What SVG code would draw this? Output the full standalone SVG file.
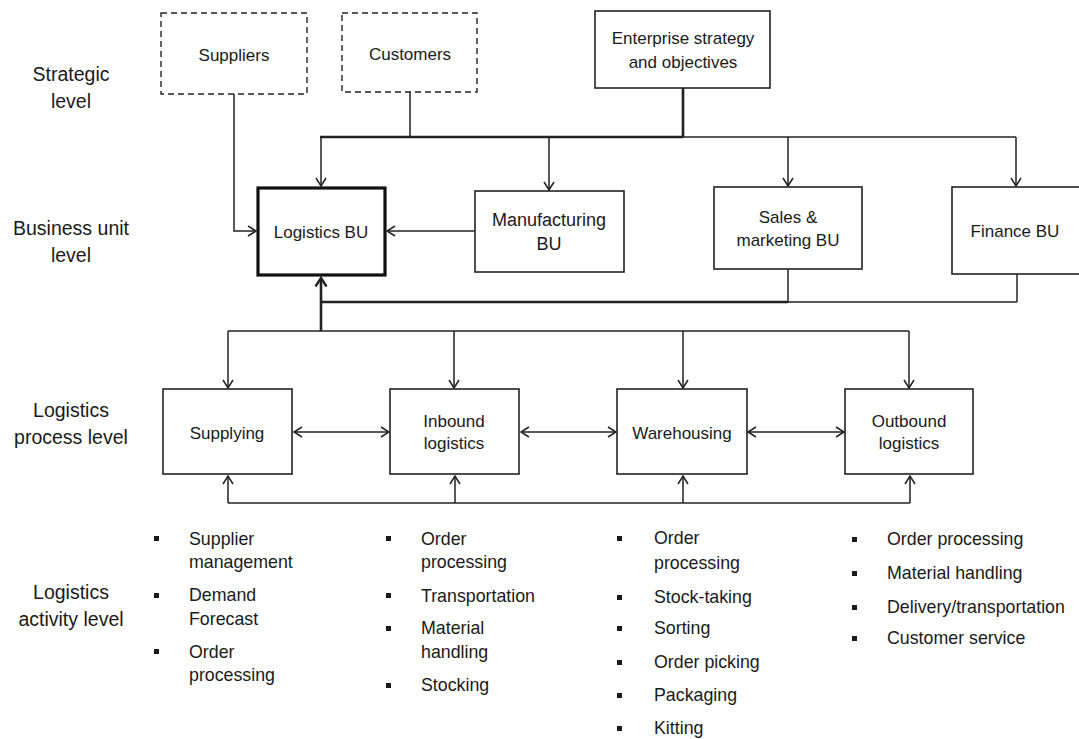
<svg xmlns="http://www.w3.org/2000/svg" width="1079" height="739" viewBox="0 0 1079 739">
<style>
text{font-family:"Liberation Sans",Arial,sans-serif;font-size:17px;fill:#1a1a1a}
.c{text-anchor:middle}
.lv{font-size:19.5px}
.act{font-size:17.8px}
.box{fill:#fff;stroke:#222;stroke-width:1.6}
.dash{fill:#fff;stroke:#222;stroke-width:1.4;stroke-dasharray:6 4}
.thickbox{fill:#fff;stroke:#111;stroke-width:3.2}
.ln{fill:none;stroke:#222;stroke-width:1.5}
.tk{fill:none;stroke:#222;stroke-width:2.6}
.bul{fill:#1a1a1a}
</style>
<defs>
<marker id="ah" viewBox="0 0 10 12" refX="9" refY="6" markerWidth="10" markerHeight="12" markerUnits="userSpaceOnUse" orient="auto-start-reverse">
<path d="M1,1 L9,6 L1,11" fill="none" stroke="#222" stroke-width="1.5"/>
</marker>
<marker id="ahk" viewBox="0 0 12 14" refX="10" refY="7" markerWidth="12" markerHeight="14" markerUnits="userSpaceOnUse" orient="auto-start-reverse">
<path d="M1.5,1.5 L10,7 L1.5,12.5" fill="none" stroke="#222" stroke-width="2.4"/>
</marker>
</defs>
<rect width="1079" height="739" fill="#fff"/>

<g id="level-labels">
<text class="c lv" x="71" y="81">Strategic</text>
<text class="c lv" x="71" y="108">level</text>
<text class="c lv" x="71" y="235">Business unit</text>
<text class="c lv" x="71" y="262">level</text>
<text class="c lv" x="71" y="417">Logistics</text>
<text class="c lv" x="71" y="444">process level</text>
<text class="c lv" x="71" y="599">Logistics</text>
<text class="c lv" x="71" y="626">activity level</text>
</g>

<g id="connectors">
<line class="tk" x1="683" y1="88" x2="683" y2="137"/>
<line class="tk" x1="320" y1="137" x2="683" y2="137"/>
<line class="ln" x1="683" y1="137" x2="1016" y2="137"/>
<line class="ln" x1="410" y1="92" x2="410" y2="137"/>
<line class="ln" x1="321" y1="137" x2="321" y2="186" marker-end="url(#ah)"/>
<line class="ln" x1="549" y1="137" x2="549" y2="190" marker-end="url(#ah)"/>
<line class="ln" x1="788" y1="137" x2="788" y2="186" marker-end="url(#ah)"/>
<line class="ln" x1="1016" y1="137" x2="1016" y2="186" marker-end="url(#ah)"/>
<path class="ln" d="M234,94 V231 H256" marker-end="url(#ah)"/>
<line class="ln" x1="475" y1="231" x2="387" y2="231" marker-end="url(#ah)"/>
<line class="ln" x1="788" y1="269" x2="788" y2="302"/>
<line class="ln" x1="1017" y1="274" x2="1017" y2="302"/>
<line class="tk" x1="320" y1="302" x2="788" y2="302"/>
<line class="ln" x1="788" y1="302" x2="1017" y2="302"/>
<line class="tk" x1="321" y1="331" x2="321" y2="278" marker-end="url(#ahk)"/>
<line class="ln" x1="228" y1="331" x2="909" y2="331"/>
<line class="ln" x1="228" y1="331" x2="228" y2="388" marker-end="url(#ah)"/>
<line class="ln" x1="454" y1="331" x2="454" y2="388" marker-end="url(#ah)"/>
<line class="ln" x1="683" y1="331" x2="683" y2="388" marker-end="url(#ah)"/>
<line class="ln" x1="909" y1="331" x2="909" y2="388" marker-end="url(#ah)"/>
<line class="ln" x1="294" y1="432" x2="389" y2="432" marker-start="url(#ah)" marker-end="url(#ah)"/>
<line class="ln" x1="521" y1="432" x2="616" y2="432" marker-start="url(#ah)" marker-end="url(#ah)"/>
<line class="ln" x1="748" y1="432" x2="844" y2="432" marker-start="url(#ah)" marker-end="url(#ah)"/>
<line class="ln" x1="228" y1="503" x2="910" y2="503"/>
<line class="ln" x1="228" y1="503" x2="228" y2="476" marker-end="url(#ah)"/>
<line class="ln" x1="455" y1="503" x2="455" y2="476" marker-end="url(#ah)"/>
<line class="ln" x1="683" y1="503" x2="683" y2="476" marker-end="url(#ah)"/>
<line class="ln" x1="910" y1="503" x2="910" y2="476" marker-end="url(#ah)"/>
</g>

<g id="suppliers">
<rect class="dash" x="161" y="13" width="146" height="81"/>
<text class="c" x="234" y="61">Suppliers</text>
</g>
<g id="customers">
<rect class="dash" x="342" y="13" width="135" height="79"/>
<text class="c" x="410" y="60">Customers</text>
</g>
<g id="enterprise">
<rect class="box" x="595" y="11" width="175" height="77"/>
<text class="c" x="683" y="44">Enterprise strategy</text>
<text class="c" x="683" y="68">and objectives</text>
</g>

<g id="logistics-bu">
<rect class="thickbox" x="258" y="188" width="127" height="87"/>
<text class="c" x="321" y="238">Logistics BU</text>
</g>
<g id="manufacturing-bu">
<rect class="box" x="475" y="191" width="149" height="81"/>
<text class="c" x="549" y="226" style="font-size:18px">Manufacturing</text>
<text class="c" x="549" y="250" style="font-size:18px">BU</text>
</g>
<g id="sales-bu">
<rect class="box" x="714" y="187" width="148" height="82"/>
<text class="c" x="788" y="223">Sales &amp;</text>
<text class="c" x="788" y="246">marketing BU</text>
</g>
<g id="finance-bu">
<rect class="box" x="952" y="187" width="140" height="87"/>
<text class="c" x="1015" y="237">Finance BU</text>
</g>

<g id="supplying">
<rect class="box" x="163" y="389" width="129" height="85"/>
<text class="c" x="227" y="439">Supplying</text>
</g>
<g id="inbound">
<rect class="box" x="390" y="389" width="129" height="85"/>
<text class="c" x="454" y="427">Inbound</text>
<text class="c" x="454" y="449">logistics</text>
</g>
<g id="warehousing">
<rect class="box" x="617" y="389" width="130" height="85"/>
<text class="c" x="682" y="439">Warehousing</text>
</g>
<g id="outbound">
<rect class="box" x="845" y="389" width="128" height="85"/>
<text class="c" x="909" y="427">Outbound</text>
<text class="c" x="909" y="449">logistics</text>
</g>

<g id="activities-supplying" class="act">
<rect class="bul" x="154" y="536" width="5" height="5"/>
<rect class="bul" x="154" y="593" width="5" height="5"/>
<rect class="bul" x="154" y="649" width="5" height="5"/>
<text class="act" x="189" y="545">Supplier</text>
<text class="act" x="189" y="568">management</text>
<text class="act" x="189" y="601">Demand</text>
<text class="act" x="189" y="625">Forecast</text>
<text class="act" x="189" y="658">Order</text>
<text class="act" x="189" y="681">processing</text>
</g>
<g id="activities-inbound">
<rect class="bul" x="386" y="536" width="5" height="5"/>
<rect class="bul" x="386" y="593" width="5" height="5"/>
<rect class="bul" x="386" y="626" width="5" height="5"/>
<rect class="bul" x="386" y="683" width="5" height="5"/>
<text class="act" x="421" y="545">Order</text>
<text class="act" x="421" y="568">processing</text>
<text class="act" x="421" y="602">Transportation</text>
<text class="act" x="421" y="634">Material</text>
<text class="act" x="421" y="658">handling</text>
<text class="act" x="421" y="691">Stocking</text>
</g>
<g id="activities-warehousing">
<rect class="bul" x="617" y="536" width="5" height="5"/>
<rect class="bul" x="617" y="595" width="5" height="5"/>
<rect class="bul" x="617" y="626" width="5" height="5"/>
<rect class="bul" x="617" y="660" width="5" height="5"/>
<rect class="bul" x="617" y="693" width="5" height="5"/>
<rect class="bul" x="617" y="726" width="5" height="5"/>
<text class="act" x="654" y="544">Order</text>
<text class="act" x="654" y="569">processing</text>
<text class="act" x="654" y="603">Stock-taking</text>
<text class="act" x="654" y="634">Sorting</text>
<text class="act" x="654" y="668">Order picking</text>
<text class="act" x="654" y="701">Packaging</text>
<text class="act" x="654" y="734">Kitting</text>
</g>
<g id="activities-outbound">
<rect class="bul" x="852" y="537" width="5" height="5"/>
<rect class="bul" x="852" y="571" width="5" height="5"/>
<rect class="bul" x="852" y="605" width="5" height="5"/>
<rect class="bul" x="852" y="636" width="5" height="5"/>
<text class="act" x="887" y="545">Order processing</text>
<text class="act" x="887" y="579">Material handling</text>
<text class="act" x="887" y="613">Delivery/transportation</text>
<text class="act" x="887" y="644">Customer service</text>
</g>
</svg>
